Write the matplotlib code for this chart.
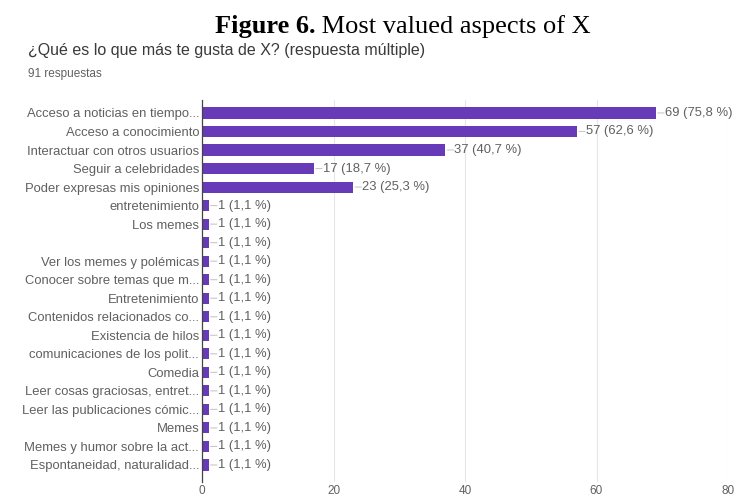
import matplotlib
matplotlib.use('Agg')
import matplotlib.pyplot as plt

# Survey responses (respuesta múltiple), 91 respondents
total_responses = 91
categories = [
    "Acceso a noticias en tiempo...",
    "Acceso a conocimiento",
    "Interactuar con otros usuarios",
    "Seguir a celebridades",
    "Poder expresas mis opiniones",
    "entretenimiento",
    "Los memes",
    "",
    "Ver los memes y polémicas",
    "Conocer sobre temas que m...",
    "Entretenimiento",
    "Contenidos relacionados co...",
    "Existencia de hilos",
    "comunicaciones de los polit...",
    "Comedia",
    "Leer cosas graciosas, entret...",
    "Leer las publicaciones cómic...",
    "Memes",
    "Memes y humor sobre la act...",
    "Espontaneidad, naturalidad...",
]
counts = [69, 57, 37, 17, 23, 1, 1, 1, 1, 1, 1, 1, 1, 1, 1, 1, 1, 1, 1, 1]
x_ticks = [0, 20, 40, 60, 80]

BAR_COLOR = '#673ab7'
TEXT_GREY = '#606060'
FONT = ['Liberation Sans', 'DejaVu Sans']
LABEL_SIZE = 9.4

plt.rcParams['font.family'] = FONT

fig = plt.figure(figsize=(7.39, 4.99), dpi=100)
ax = fig.add_axes([202 / 739, 1 - 482 / 499, (728 - 202) / 739, (482 - 100) / 499])

y_pos = list(range(len(categories)))
ax.barh(y_pos, counts, height=0.6, color=BAR_COLOR, zorder=3)

ax.set_xlim(0, 80)
ax.set_ylim(len(categories) - 0.08, -0.7)
ax.set_yticks(y_pos)
ax.set_yticklabels(categories, fontsize=LABEL_SIZE, color=TEXT_GREY)
ax.set_xticks(x_ticks)
ax.set_xticklabels([str(t) for t in x_ticks], fontsize=8.5, color=TEXT_GREY)
ax.tick_params(axis='y', length=0, pad=2)
ax.tick_params(axis='x', length=0, pad=2)

for t in x_ticks[1:]:
    ax.axvline(t, color='#e6e6e6', linewidth=0.8, zorder=1)

for side in ['top', 'right', 'bottom']:
    ax.spines[side].set_visible(False)
ax.spines['left'].set_color('#444444')
ax.spines['left'].set_linewidth(0.9)
ax.spines['left'].set_zorder(4)

# value labels with a short connector line, Google Forms style
for y, c in zip(y_pos, counts):
    pct = f"{c / total_responses * 100:.1f}".replace('.', ',')
    ax.annotate('', xy=(c, y), xytext=(6, 0), textcoords='offset points',
                arrowprops=dict(arrowstyle='-', color='#c8c8c8', lw=0.8,
                                shrinkA=0, shrinkB=1.5))
    ax.annotate(f"{c} ({pct} %)", xy=(c, y), xytext=(6.5, 0),
                textcoords='offset points', va='center', ha='left',
                fontsize=LABEL_SIZE, color=TEXT_GREY)

# headers from the form
fig.text(28 / 739, 1 - 51 / 499, "¿Qué es lo que más te gusta de X? (respuesta múltiple)",
         fontsize=11.5, color='#3a3a3a', va='center', ha='left')
fig.text(28 / 739, 1 - 74 / 499, "91 respuestas", fontsize=8.5, color=TEXT_GREY,
         va='center', ha='left')

# figure caption: bold lead-in + regular text, centred as one line
fig.canvas.draw()
renderer = fig.canvas.get_renderer()
cap_y = 1 - 27 / 499
t1 = fig.text(0, cap_y, "Figure 6.", fontsize=19, fontweight='bold',
              family='Liberation Serif', va='center', ha='left')
bb1 = t1.get_window_extent(renderer)
t2 = fig.text(0, cap_y, " Most valued aspects of X", fontsize=19,
              family='Liberation Serif', va='center', ha='left')
bb2 = t2.get_window_extent(renderer)
total_w = bb1.width + bb2.width
start = 403 - total_w / 2
t1.set_x(start / 739)
t2.set_x((start + bb1.width) / 739)

fig.savefig('out.png', dpi=100)
